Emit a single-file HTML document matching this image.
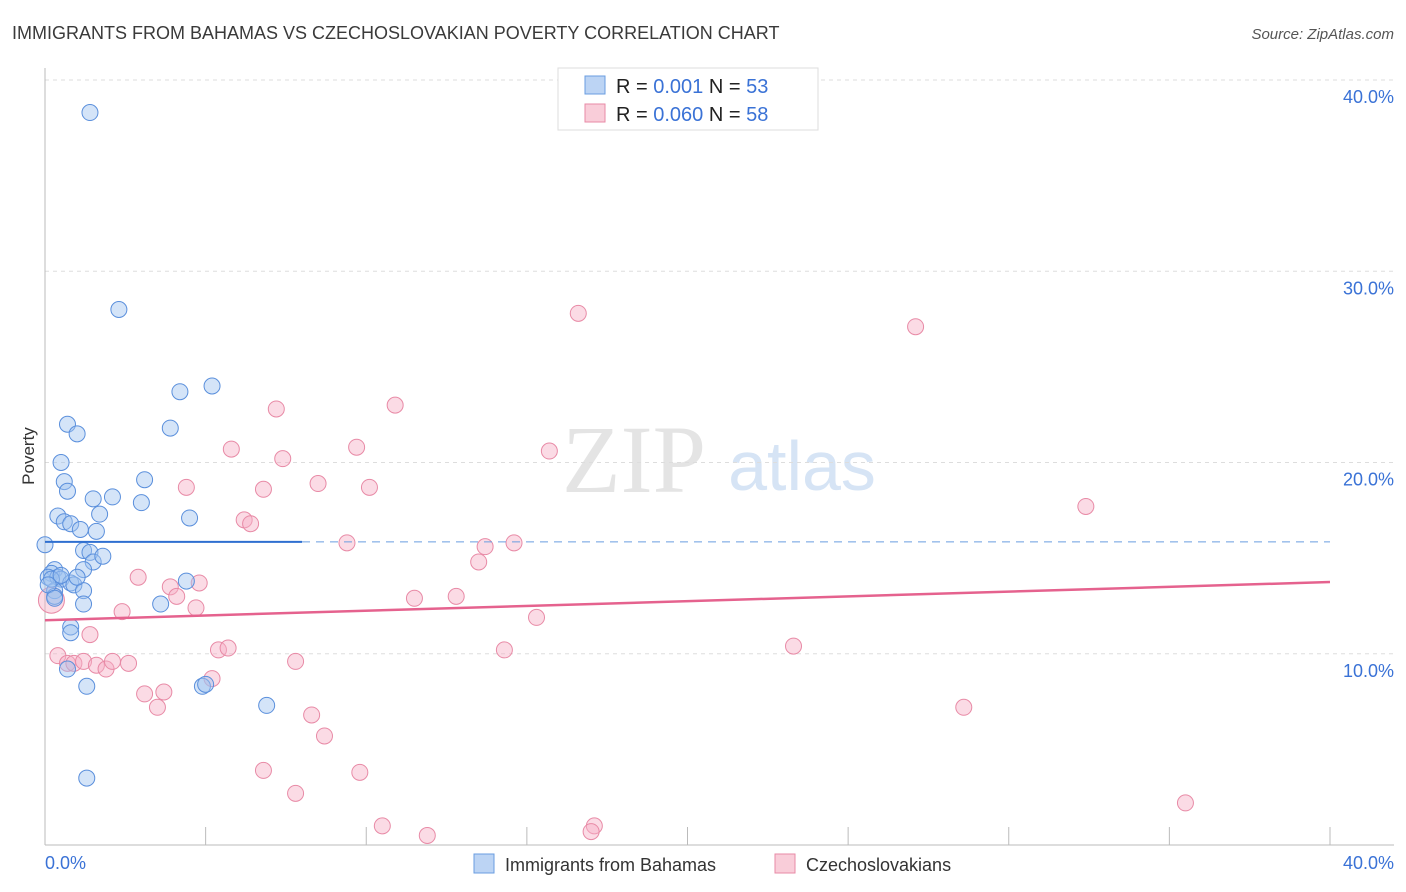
<!DOCTYPE html>
<html><head><meta charset="utf-8"><style>
body{margin:0;background:#fff;font-family:"Liberation Sans",sans-serif}
svg{display:block}
</style></head><body>
<svg width="1406" height="892" id="c">
<text x="12" y="39" font-size="18" fill="#3a3a3a">IMMIGRANTS FROM BAHAMAS VS CZECHOSLOVAKIAN POVERTY CORRELATION CHART</text>
<text x="1394" y="39" font-size="15" fill="#555" font-style="italic" text-anchor="end">Source: ZipAtlas.com</text>
<text x="634" y="492" font-size="96" fill="#e4e4e4" font-family="Liberation Serif" text-anchor="middle">ZIP</text>
<text x="802" y="490" font-size="70" fill="#d6e4f5" text-anchor="middle">atlas</text>
<g id="grid"></g>
<line x1="45" y1="68" x2="45" y2="845" stroke="#bbb"/>
<line x1="45" y1="845" x2="1394" y2="845" stroke="#bbb"/>
<text x="34" y="456" font-size="17" fill="#333" transform="rotate(-90 34 456)" text-anchor="middle">Poverty</text>
<text x="45" y="869" font-size="18" fill="#3a72d6">0.0%</text>
<text x="1394" y="869" font-size="18" fill="#3a72d6" text-anchor="end">40.0%</text>
<g id="marks"></g>
<g>
<rect x="558" y="68" width="260" height="62" fill="#fff" stroke="#ddd"/>
<rect x="585" y="76" width="20" height="18" fill="#bcd4f4" stroke="#6a9de0"/>
<text x="616" y="93" font-size="20" fill="#222">R = <tspan fill="#3a72d6">0.001</tspan>   N = <tspan fill="#3a72d6">53</tspan></text>
<rect x="585" y="104" width="20" height="18" fill="#f9cdd9" stroke="#e88aa6"/>
<text x="616" y="121" font-size="20" fill="#222">R = <tspan fill="#3a72d6">0.060</tspan>   N = <tspan fill="#3a72d6">58</tspan></text>
</g>
<g>
<rect x="474" y="854" width="20" height="19" fill="#bcd4f4" stroke="#6a9de0"/>
<text x="505" y="871" font-size="18" fill="#333">Immigrants from Bahamas</text>
<rect x="775" y="854" width="20" height="19" fill="#f9cdd9" stroke="#e88aa6"/>
<text x="806" y="871" font-size="18" fill="#333">Czechoslovakians</text>
</g>
</svg>
<script>
const yTicks=[10,20,30,40];
const xTicks=[0,5,10,15,20,25,30,35,40];
const blueX=[1.4,2.3,5.2,4.2,3.9,0.7,1.0,0.5,3.1,0.6,0.7,1.5,2.1,3.0,0.4,0.6,0.8,1.7,4.5,1.1,1.6,0.0,1.2,1.4,1.5,1.2,0.3,0.2,0.1,0.4,0.5,0.8,0.9,0.3,1.2,0.3,1.2,3.6,4.4,0.8,0.8,0.7,1.3,4.9,5.0,6.9,1.3,0.2,0.1,0.5,0.3,1.0,1.8];
const blueY=[38.3,28.0,24.0,23.7,21.8,22.0,21.5,20.0,19.1,19.0,18.5,18.1,18.2,17.9,17.2,16.9,16.8,17.3,17.1,16.5,16.4,15.7,15.4,15.3,14.8,14.4,14.4,14.2,14.0,14.0,13.9,13.7,13.6,13.3,13.3,13.0,12.6,12.6,13.8,11.4,11.1,9.2,8.3,8.3,8.4,7.3,3.5,13.9,13.6,14.1,12.9,14.0,15.1];
const pinkX=[16.6,27.1,7.2,10.9,5.8,9.7,15.7,7.4,4.4,6.8,8.5,10.1,32.4,6.2,6.4,9.4,13.7,14.6,13.5,2.9,3.9,4.8,4.1,4.7,11.5,12.8,2.4,15.3,1.4,5.4,5.7,14.3,23.3,0.4,0.7,0.9,1.2,1.6,1.9,2.1,2.6,7.8,5.2,3.1,3.7,3.5,8.3,8.7,28.6,6.8,9.8,7.8,35.5,10.5,17.1,17.0,11.9,0.2];
const pinkY=[27.8,27.1,22.8,23.0,20.7,20.8,20.6,20.2,18.7,18.6,18.9,18.7,17.7,17.0,16.8,15.8,15.6,15.8,14.8,14.0,13.5,13.7,13.0,12.4,12.9,13.0,12.2,11.9,11.0,10.2,10.3,10.2,10.4,9.9,9.5,9.5,9.6,9.4,9.2,9.6,9.5,9.6,8.7,7.9,8.0,7.2,6.8,5.7,7.2,3.9,3.8,2.7,2.2,1.0,1.0,0.7,0.5,12.8];
const blueTrend=[15.85,15.85];
const pinkTrend=[11.75,13.75];
const X=v=>45+v/40*1285, Y=v=>845-v/40*765;
const ns="http://www.w3.org/2000/svg";
function mk(t,a,p){const e=document.createElementNS(ns,t);for(const k in a)e.setAttribute(k,a[k]);p.appendChild(e);return e;}
const grid=document.getElementById('grid'),marks=document.getElementById('marks');
yTicks.forEach(v=>{
const l=mk('line',{x1:45,x2:1394,y1:Y(v),y2:Y(v),stroke:'#ddd','stroke-dasharray':'4 4'},grid);


const t=mk('text',{x:1394,y:Y(v)+23,'font-size':18,fill:'#3a72d6','text-anchor':'end'},grid);
t.textContent=v.toFixed(1)+'%';


});
xTicks.forEach(v=>{
const l=mk('line',{x1:X(v),x2:X(v),y1:827,y2:845,stroke:'#bbb'},grid);


});
pinkX.forEach((x,i)=>{
const c=mk('circle',{cx:X(x),cy:Y(pinkY[i]),r:i==pinkX.length-1?13:8,fill:'rgba(246,176,198,0.45)',stroke:'#e88aa6','stroke-width':1},marks);


});
blueX.forEach((x,i)=>{
const c=mk('circle',{cx:X(x),cy:Y(blueY[i]),r:8,fill:'rgba(160,196,240,0.45)',stroke:'#5a8fdc','stroke-width':1},marks);


});
let l=mk('line',{x1:X(0),x2:X(8),y1:Y(blueTrend[0]),y2:Y(blueTrend[0]+(blueTrend[1]-blueTrend[0])*0.2),stroke:'#2f6fd0','stroke-width':2},marks);


l=mk('line',{x1:X(8),x2:X(40),y1:Y(blueTrend[0]+(blueTrend[1]-blueTrend[0])*0.2),y2:Y(blueTrend[1]),stroke:'#6a9de0','stroke-width':1,'stroke-dasharray':'8 6'},marks);


l=mk('line',{x1:X(0),x2:X(40),y1:Y(pinkTrend[0]),y2:Y(pinkTrend[1]),stroke:'#e5628e','stroke-width':2.5},marks);


</script>
</body></html>
